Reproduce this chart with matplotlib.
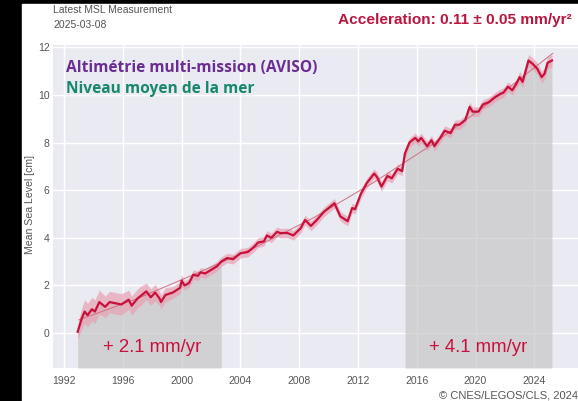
import numpy as np
import matplotlib.pyplot as plt
from matplotlib.patches import Rectangle

# Mean sea level (cm)
years = [1992.93, 1993.2, 1993.4, 1993.6, 1993.9, 1994.1, 1994.4, 1994.8, 1995.1, 1995.5,
         1995.9, 1996.4, 1996.6, 1997.0, 1997.3, 1997.6, 1997.9, 1998.2, 1998.5, 1998.6,
         1998.9, 1999.4, 1999.9, 2000.0, 2000.2, 2000.5, 2000.8, 2001.1, 2001.3, 2001.6,
         2002.0, 2002.4, 2002.7, 2003.1, 2003.5, 2004.0, 2004.5, 2004.9, 2005.2, 2005.6,
         2005.8, 2006.1, 2006.5, 2006.7, 2007.2, 2007.6, 2008.1, 2008.4, 2008.8, 2009.2,
         2009.7, 2010.0, 2010.4, 2010.8, 2011.3, 2011.6, 2011.8, 2012.2, 2012.6, 2013.1,
         2013.3, 2013.6, 2014.0, 2014.3, 2014.7, 2015.0, 2015.2, 2015.5, 2015.9, 2016.1,
         2016.3, 2016.7, 2017.0, 2017.2, 2017.6, 2017.9, 2018.3, 2018.6, 2018.9, 2019.3,
         2019.6, 2019.8, 2020.2, 2020.5, 2020.9, 2021.3, 2021.7, 2021.9, 2022.2, 2022.5,
         2022.8, 2023.0, 2023.2, 2023.6, 2023.9, 2024.2, 2024.5, 2024.7, 2024.9, 2025.2]
msl = [0.05, 0.6, 0.9, 0.75, 1.0, 0.9, 1.3, 1.1, 1.3, 1.25,
       1.2, 1.4, 1.15, 1.45, 1.6, 1.75, 1.5, 1.7, 1.45, 1.3,
       1.6, 1.7, 1.9, 2.2, 2.0, 2.1, 2.45, 2.4, 2.55, 2.5,
       2.65, 2.8, 3.0, 3.15, 3.1, 3.35, 3.4, 3.6, 3.8, 3.85,
       4.1, 4.0, 4.25, 4.2, 4.2, 4.1, 4.4, 4.75, 4.5, 4.75,
       5.1, 5.25, 5.45, 4.9, 4.7, 5.25, 5.2, 5.85, 6.3, 6.7,
       6.55, 6.15, 6.6, 6.5, 6.9, 6.8, 7.55, 8.0, 8.2, 8.05,
       8.2, 7.85, 8.1, 7.85, 8.2, 8.5, 8.4, 8.75, 8.75, 8.95,
       9.5, 9.3, 9.3, 9.6, 9.7, 9.9, 10.05, 10.1, 10.35, 10.2,
       10.5, 10.75, 10.55, 11.45, 11.3, 11.1, 10.75, 10.9, 11.35, 11.45]
msl_err = [0.3, 0.45, 0.5, 0.5, 0.5, 0.5, 0.5, 0.45, 0.45, 0.45,
           0.45, 0.4, 0.4, 0.4, 0.4, 0.35, 0.35, 0.35, 0.3, 0.3,
           0.3, 0.25, 0.25, 0.25, 0.2, 0.2, 0.2, 0.2, 0.2, 0.2,
           0.2, 0.2, 0.2, 0.2, 0.2, 0.2, 0.2, 0.2, 0.2, 0.2,
           0.2, 0.2, 0.2, 0.2, 0.2, 0.2, 0.2, 0.2, 0.2, 0.2,
           0.2, 0.2, 0.2, 0.2, 0.2, 0.2, 0.2, 0.2, 0.2, 0.2,
           0.2, 0.2, 0.2, 0.2, 0.2, 0.2, 0.2, 0.2, 0.2, 0.2,
           0.2, 0.2, 0.2, 0.2, 0.2, 0.2, 0.2, 0.2, 0.2, 0.2,
           0.2, 0.2, 0.2, 0.2, 0.2, 0.2, 0.2, 0.2, 0.2, 0.2,
           0.2, 0.25, 0.25, 0.25, 0.25, 0.25, 0.25, 0.25, 0.25, 0.25]

# quadratic trend
trend_years = [1993, 1997, 2001, 2005, 2009, 2013, 2017, 2021, 2025.25]
trend_msl = [0.55, 1.45, 2.5, 3.6, 4.85, 6.3, 7.9, 9.7, 11.75]

periods = [(1992.93, 2003.0), (2015.1, 2025.2)]
rates = ["+ 2.1 mm/yr", "+ 4.1 mm/yr"]
xticks = [1992, 1996, 2000, 2004, 2008, 2012, 2016, 2020, 2024]
yticks = [0, 2, 4, 6, 8, 10, 12]

years = np.array(years)
msl = np.array(msl)
msl_err = np.array(msl_err)

W, H = 578, 401
fig = plt.figure(figsize=(W / 100, H / 100), dpi=100, facecolor="black")
fig.patches.append(Rectangle((22 / W, 0), 1 - 22 / W, (H - 4) / H,
                             transform=fig.transFigure, color="white", zorder=-10))

ax = fig.add_axes([53 / W, (H - 368) / H, 1 - 53 / W, (368 - 45) / H])
ax.set_facecolor("#eaeaf2")
ymin, ymax = -1.47, 12.1
ax.set_xlim(1991.25, 2026.97)
ax.set_ylim(ymin, ymax)
ax.grid(True, color="white", lw=1.0)
ax.set_axisbelow(True)
for s in ax.spines.values():
    s.set_visible(False)

red = "#c8103c"
for (a, b), txt in zip(periods, rates):
    m = (years >= a - 0.01) & (years <= b + 0.01)
    ax.fill_between(years[m], ymin, msl[m], color="#c4c4c4", alpha=0.65, lw=0, zorder=1)
    ax.text((a + b) / 2, -0.62, txt, ha="center", va="center", color=red,
            fontsize=13.4, family="Liberation Sans", zorder=5)

ax.fill_between(years, msl - msl_err, msl + msl_err, color="#e8a0b2", alpha=0.7, lw=0, zorder=2)
ax.plot(trend_years, trend_msl, color="#cf7080", lw=0.7, zorder=3)
ax.plot(years, msl, color=red, lw=1.6, zorder=4)

ax.set_xticks(xticks)
ax.set_yticks(yticks)
ax.tick_params(axis="x", length=0, labelsize=7.5, labelcolor="#555555", pad=6)
ax.tick_params(axis="y", length=0, labelsize=7.5, labelcolor="#555555", pad=2.5)
for lab in ax.get_xticklabels() + ax.get_yticklabels():
    lab.set_family("Liberation Sans")

fig.text(30 / W, 1 - 205 / H, "Mean Sea Level [cm]", fontsize=7.6, color="#555555",
         family="Liberation Sans", rotation=90, ha="center", va="center")

ax.text(0.025, 0.93, "Altimétrie multi-mission (AVISO)", transform=ax.transAxes,
        color="#6a2d92", fontsize=11.2, fontweight="bold", family="Open Sans", va="center")
ax.text(0.025, 0.865, "Niveau moyen de la mer", transform=ax.transAxes,
        color="#18886c", fontsize=11.2, fontweight="bold", family="Open Sans", va="center")

fig.text(53 / W, 1 - 10 / H, "Latest MSL Measurement", fontsize=7.5, color="#555555",
         family="Liberation Sans", va="center")
fig.text(53 / W, 1 - 25 / H, "2025-03-08", fontsize=7.5, color="#555555",
         family="Liberation Sans", va="center")
fig.text(572 / W, 1 - 20 / H, "Acceleration: 0.11 \u00b1 0.05 mm/yr\u00b2", fontsize=11.1,
         color="#b8163c", fontweight="bold", family="Liberation Sans", ha="right", va="center")
fig.text(1.0, 1 - 396 / H, "\u00a9 CNES/LEGOS/CLS, 2024", fontsize=8, color="#555555",
         family="Liberation Sans", ha="right", va="center")

fig.savefig("out.png", dpi=100, facecolor="black")
